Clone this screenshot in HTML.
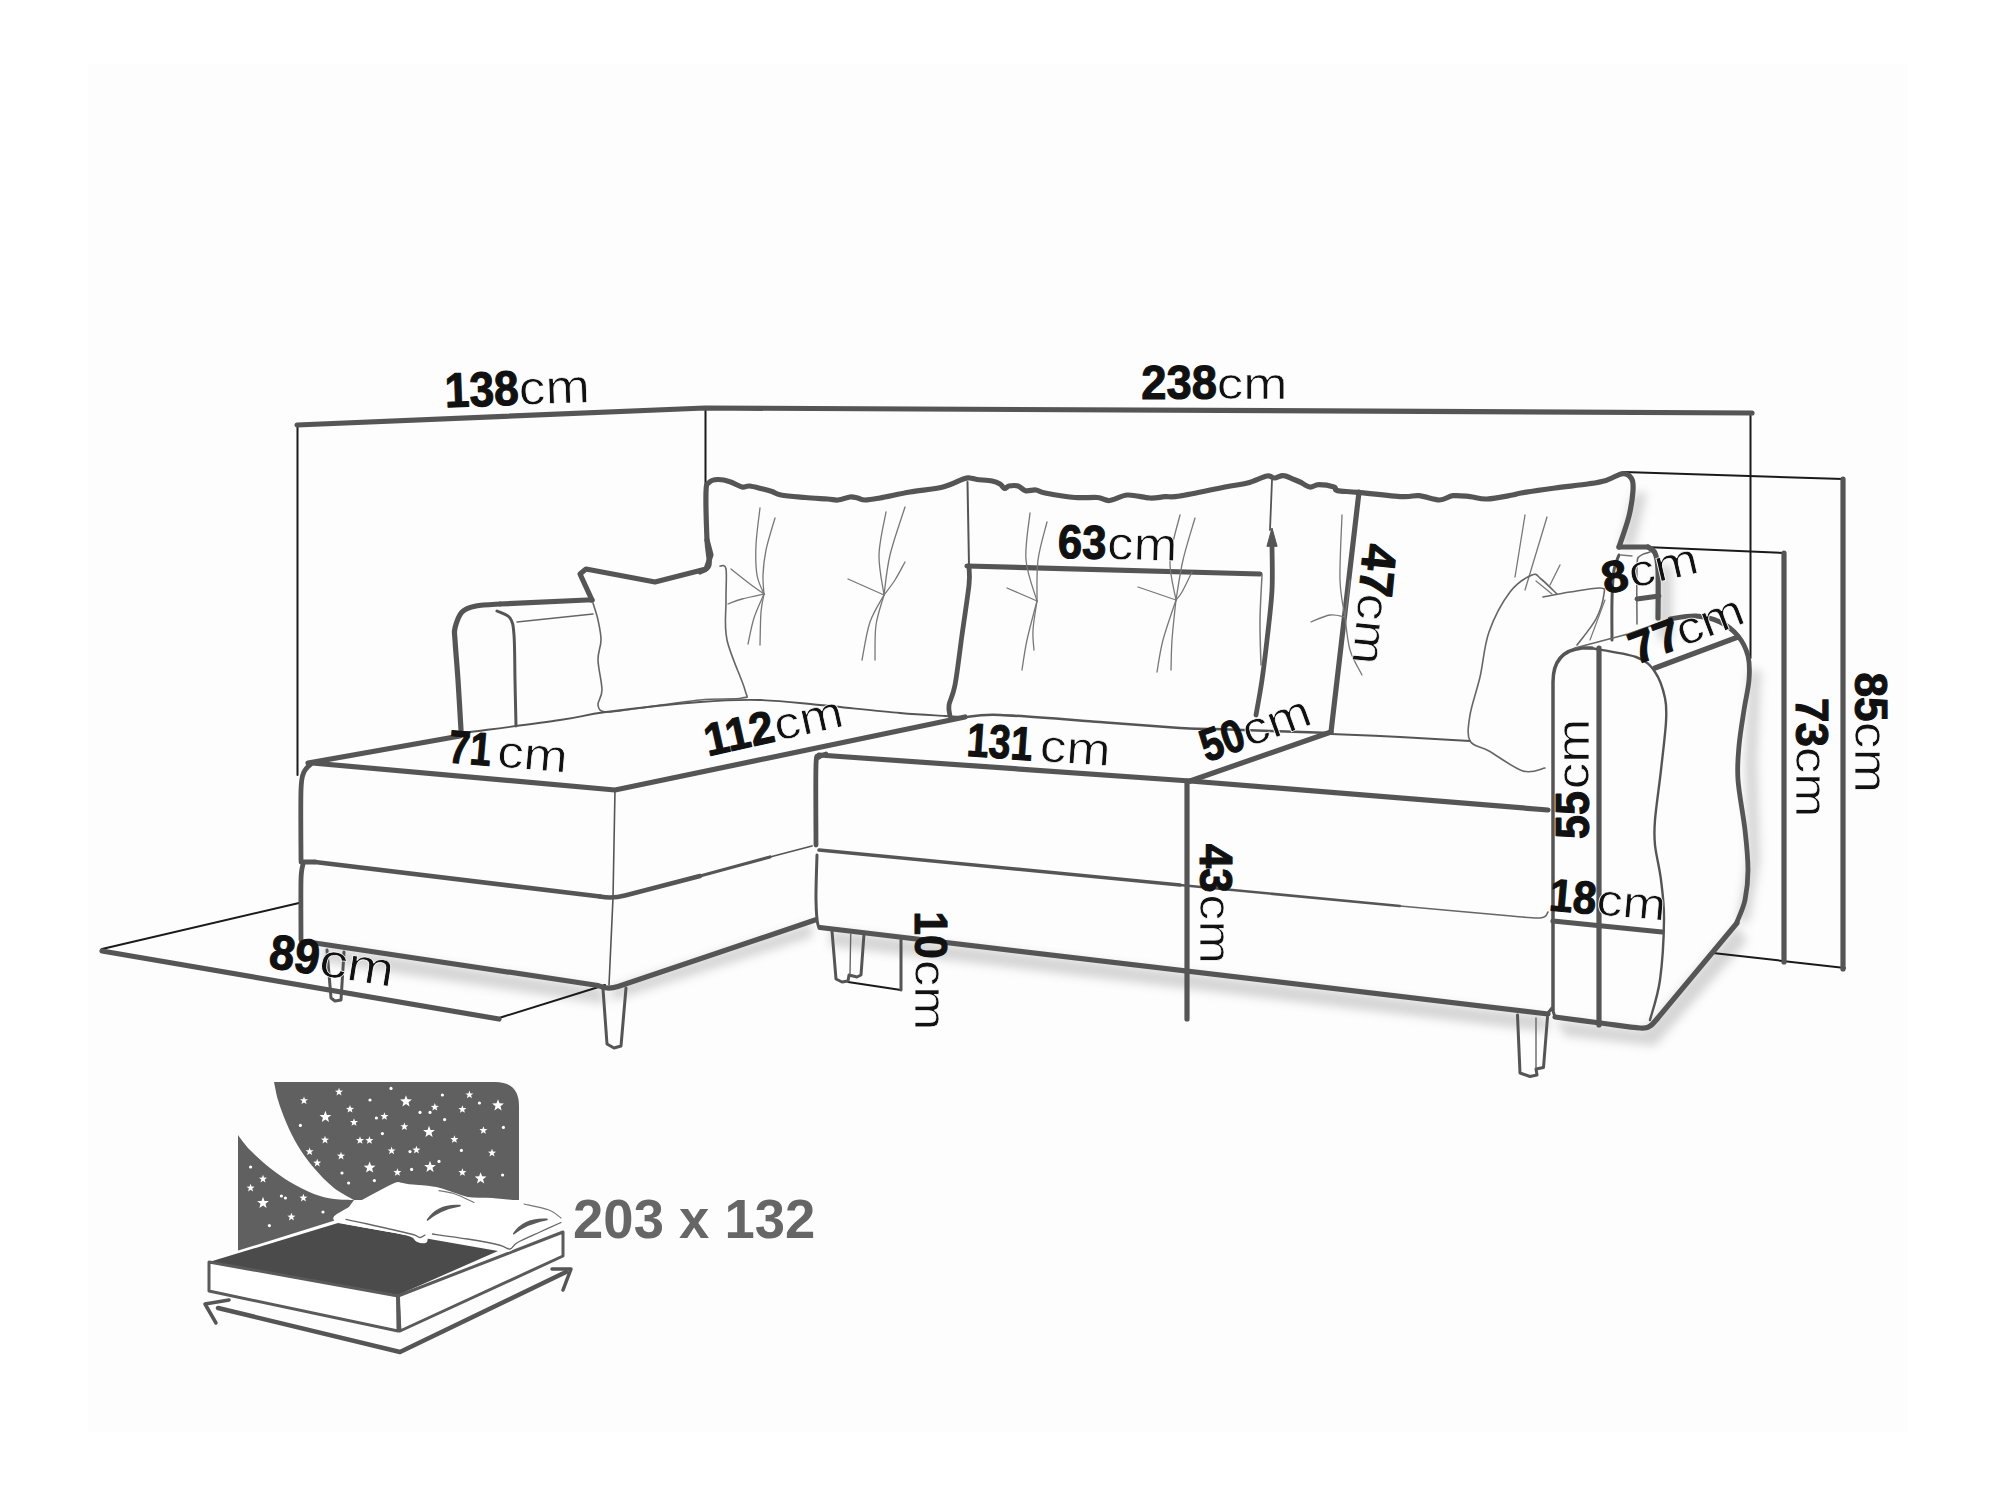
<!DOCTYPE html>
<html><head><meta charset="utf-8"><style>
html,body{margin:0;padding:0;background:#fff;width:2000px;height:1500px;overflow:hidden}
text{font-family:"Liberation Sans",sans-serif}
</style></head><body>
<svg width="2000" height="1500" viewBox="0 0 2000 1500" style="position:absolute;left:0;top:0">
<defs><filter id="blur" x="-20%" y="-50%" width="140%" height="200%"><feGaussianBlur stdDeviation="6"/></filter></defs>
<rect x="0" y="0" width="2000" height="1500" fill="#ffffff"/>
<rect x="88" y="64" width="1820" height="1368" fill="#fdfdfd"/>
<filter id="sb" x="-10%" y="-50%" width="120%" height="200%"><feGaussianBlur stdDeviation="5"/></filter>
<g filter="url(#sb)" opacity="0.27" fill="#6a6a6a">
<path d="M322,946 L604,988 L604,1004 L322,962Z"/>
<path d="M612,987 L812,923 L812,937 L612,1001Z"/>
<path d="M830,930 L1548,1016 L1548,1032 L830,946Z"/>
<path d="M1555,1020 L1645,1030 L1737,925 L1747,941 L1655,1046 L1565,1036Z"/>
<path d="M1737,922 L1748,860 L1745,760 L1749,670 L1761,670 L1757,760 L1760,860 L1749,922Z"/>
<path d="M1633,493 L1620,547 L1634,547 L1647,493Z"/>
<path d="M1658,565 L1658,640 L1672,640 L1672,565Z"/>
</g>
<path d="M297.5,425 L297.5,775" stroke="#1a1a1a" stroke-width="2" fill="none" stroke-linejoin="round" stroke-linecap="round" />
<path d="M705.5,408 L705.5,487" stroke="#1a1a1a" stroke-width="2" fill="none" stroke-linejoin="round" stroke-linecap="round" />
<path d="M1750.5,412 L1750.5,658" stroke="#1a1a1a" stroke-width="2" fill="none" stroke-linejoin="round" stroke-linecap="round" />
<path d="M1624,472 L1843,479" stroke="#1a1a1a" stroke-width="2" fill="none" stroke-linejoin="round" stroke-linecap="round" />
<path d="M1645,547 L1785,553" stroke="#1a1a1a" stroke-width="2" fill="none" stroke-linejoin="round" stroke-linecap="round" />
<path d="M1713,953 L1845,968" stroke="#1a1a1a" stroke-width="2" fill="none" stroke-linejoin="round" stroke-linecap="round" />
<path d="M102,949 L299,903" stroke="#1a1a1a" stroke-width="2" fill="none" stroke-linejoin="round" stroke-linecap="round" />
<path d="M499,1018 L605,985" stroke="#1a1a1a" stroke-width="2" fill="none" stroke-linejoin="round" stroke-linecap="round" />
<path d="M848,982 L901,990" stroke="#1a1a1a" stroke-width="2" fill="none" stroke-linejoin="round" stroke-linecap="round" />
<path d="M901,940 L901,990" stroke="#555555" stroke-width="3" fill="none" stroke-linejoin="round" stroke-linecap="round" />
<path d="M297,425 L705,408 L1752,413" stroke="#555555" stroke-width="5.2" fill="none" stroke-linejoin="round" stroke-linecap="round" />
<path d="M1843,479 L1843,969" stroke="#555555" stroke-width="5.2" fill="none" stroke-linejoin="round" stroke-linecap="round" />
<path d="M1784,553 L1784,962" stroke="#555555" stroke-width="5.2" fill="none" stroke-linejoin="round" stroke-linecap="round" />
<path d="M967,566 L1260,574" stroke="#555555" stroke-width="5.2" fill="none" stroke-linejoin="round" stroke-linecap="round" />
<path d="M102,951 L499,1019" stroke="#555555" stroke-width="5.2" fill="none" stroke-linejoin="round" stroke-linecap="round" />
<path d="M700,572 C701.5,570.8 707.8,570.3 709,565 C710.2,559.7 707.5,552.2 707,540 C706.5,527.8 705.7,501.6 706,492 C706.3,482.4 707.0,484.6 709,482.5 C711.0,480.4 714.5,479.6 718,479.5 C721.5,479.4 726.0,480.4 730,481.7 C734.0,482.9 738.8,486.3 742,487 C745.2,487.7 746.0,485.7 749.5,486 C753.0,486.3 759.2,488.1 763,489 C766.8,489.9 769.0,490.5 772,491.5 C775.0,492.5 775.5,494.0 781,495 C786.5,496.0 797.2,496.8 805,497.5 C812.8,498.2 822.0,498.6 827.5,499 C833.0,499.4 834.2,500.3 838,500 C841.8,499.7 846.8,497.3 850,497 C853.2,496.7 855.0,497.5 857.5,498 C860.0,498.5 861.2,500.0 865,500 C868.8,500.0 872.5,499.3 880,498 C887.5,496.7 899.5,493.8 910,492 C920.5,490.2 934.0,489.2 943,487 C952.0,484.8 959.5,480.2 964,478.7 C968.5,477.2 967.8,477.9 970,478 C972.2,478.1 973.3,479.0 977,479.5 C980.7,480.0 988.2,480.2 992,481 C995.8,481.8 997.9,482.8 1000,484 C1002.1,485.2 1003.0,488.2 1004.5,488.5 C1006.0,488.8 1006.8,486.4 1009,486 C1011.2,485.6 1015.2,485.2 1018,486 C1020.8,486.8 1022.5,490.0 1025.5,490.7 C1028.5,491.4 1032.8,489.6 1036,490 C1039.2,490.4 1038.5,491.8 1045,493 C1051.5,494.2 1066.2,496.8 1075,497.5 C1083.8,498.2 1091.8,497.0 1097.5,497.5 C1103.2,498.0 1104.5,500.9 1109.5,500.5 C1114.5,500.1 1120.8,495.4 1127.5,495 C1134.2,494.6 1143.8,497.7 1150,498 C1156.2,498.3 1160.0,497.0 1165,496.7 C1170.0,496.4 1170.0,497.6 1180,496 C1190.0,494.4 1213.8,489.2 1225,487 C1236.2,484.8 1240.5,484.8 1247.5,483 C1254.5,481.2 1262.5,476.8 1267,476 C1271.5,475.2 1271.8,478.1 1274.5,478 C1277.2,477.9 1280.2,475.4 1283.5,475.7 C1286.8,475.9 1291.2,478.4 1294,479.5 C1296.8,480.6 1297.3,480.8 1300,482 C1302.7,483.2 1306.9,486.6 1310,487 C1313.1,487.4 1314.7,484.7 1318.7,484.7 C1322.7,484.7 1330.9,486.0 1334,487 C1337.1,488.0 1333.4,489.7 1337.4,490.6 C1341.4,491.5 1347.0,491.3 1357.8,492.3 C1368.6,493.3 1391.8,496.0 1402,496.6 C1412.2,497.2 1412.8,495.1 1419,495.7 C1425.2,496.3 1433.8,500.0 1439.5,500 C1445.2,500.0 1447.9,496.3 1453,495.7 C1458.1,495.1 1464.3,496.1 1470,496.6 C1475.7,497.2 1479.9,499.3 1487,499 C1494.1,498.7 1506.9,496.0 1512.6,495 C1518.3,494.0 1513.9,494.2 1521,493 C1528.1,491.8 1543.7,489.5 1555,488 C1566.3,486.5 1580.5,485.1 1589,483.8 C1597.5,482.5 1600.3,482.1 1606,480.4 C1611.7,478.7 1618.7,473.9 1623,473.6 C1627.3,473.3 1629.9,475.9 1631.6,478.7 C1633.3,481.5 1633.4,484.4 1633,490.6 C1632.6,496.8 1631.3,506.6 1629,516 C1626.7,525.4 1620.7,541.8 1619,547" stroke="#555555" stroke-width="5.2" fill="none" stroke-linejoin="round" stroke-linecap="round" />
<path d="M1619,547 L1648,547" stroke="#555555" stroke-width="5.2" fill="none" stroke-linejoin="round" stroke-linecap="round" />
<path d="M1648,547 C1649.2,548.0 1653.3,549.2 1655,553 C1656.7,556.8 1657.5,559.2 1658,570 C1658.5,580.8 1658.0,610.0 1658,618" stroke="#555555" stroke-width="5.2" fill="none" stroke-linejoin="round" stroke-linecap="round" />
<path d="M967.5,482 L969,565" stroke="#555555" stroke-width="2" fill="none" stroke-linejoin="round" stroke-linecap="round" />
<path d="M969,567 C969.0,570.0 970.2,573.7 969,585 C967.8,596.3 964.3,618.3 962,635 C959.7,651.7 957.2,673.3 955,685 C952.8,696.7 949.8,699.8 949,705 C948.2,710.2 949.8,714.2 950,716" stroke="#555555" stroke-width="4.8" fill="none" stroke-linejoin="round" stroke-linecap="round" />
<path d="M1272,480 L1270,530" stroke="#555555" stroke-width="1.8" fill="none" stroke-linejoin="round" stroke-linecap="round" />
<path d="M1267,546 L1272,528 L1277,546Z" stroke="#555555" stroke-width="1" fill="#555555" stroke-linejoin="round" stroke-linecap="round" />
<path d="M1272,546 C1272.0,553.3 1272.8,574.3 1272,590 C1271.2,605.7 1268.7,625.0 1267,640 C1265.3,655.0 1263.8,667.5 1262,680 C1260.2,692.5 1257.0,709.2 1256,715" stroke="#555555" stroke-width="4.8" fill="none" stroke-linejoin="round" stroke-linecap="round" />
<path d="M1262,575 C1261.7,582.5 1260.2,605.0 1260,620 C1259.8,635.0 1260.8,657.5 1261,665" stroke="#777" stroke-width="1.5" fill="none" stroke-linejoin="round" stroke-linecap="round" />
<path d="M1359,492 L1331,732" stroke="#555555" stroke-width="5.2" fill="none" stroke-linejoin="round" stroke-linecap="round" />
<path d="M461,730 C460.5,721.7 459.0,695.0 458,680 C457.0,665.0 455.5,648.7 455,640 C454.5,631.3 453.8,632.7 455,628 C456.2,623.3 458.5,615.7 462,612 C465.5,608.3 469.7,607.3 476,606 C482.3,604.7 496.0,604.3 500,604" stroke="#555555" stroke-width="5.2" fill="none" stroke-linejoin="round" stroke-linecap="round" />
<path d="M500,604 L587,600 L592,600" stroke="#555555" stroke-width="5.2" fill="none" stroke-linejoin="round" stroke-linecap="round" />
<path d="M592,600 L580,574 L586,569 L655,582 L706,569 L711,555 L707,540" stroke="#555555" stroke-width="5.2" fill="none" stroke-linejoin="round" stroke-linecap="round" />
<path d="M497,611 C499.2,612.2 507.2,614.0 510,618 C512.8,622.0 513.2,624.7 514,635 C514.8,645.3 514.7,664.8 515,680 C515.3,695.2 515.8,718.3 516,726" stroke="#555555" stroke-width="3" fill="none" stroke-linejoin="round" stroke-linecap="round" />
<path d="M517,622 L593,614" stroke="#666" stroke-width="1.5" fill="none" stroke-linejoin="round" stroke-linecap="round" />
<path d="M593,603 C593.8,605.8 596.7,613.8 598,620 C599.3,626.2 601.0,633.3 601,640 C601.0,646.7 597.8,651.7 598,660 C598.2,668.3 602.0,682.5 602,690 C602.0,697.5 597.3,701.3 598,705 C598.7,708.7 599.0,711.5 606,712 C613.0,712.5 624.3,710.0 640,708 C655.7,706.0 683.0,701.7 700,700 C717.0,698.3 734.5,699.7 742,698 C749.5,696.3 747.5,699.7 745,690 C742.5,680.3 730.2,655.0 727,640 C723.8,625.0 726.2,611.8 726,600 C725.8,588.2 727.0,574.7 726,569 C725.0,563.3 721.0,566.5 720,566" stroke="#666" stroke-width="1.6" fill="none" stroke-linejoin="round" stroke-linecap="round" />
<path d="M463,733 C479.2,730.8 536.2,723.5 560,720 C583.8,716.5 582.7,715.0 606,712 C629.3,709.0 674.3,704.0 700,702 C725.7,700.0 740.0,699.5 760,700 C780.0,700.5 796.7,702.8 820,705 C843.3,707.2 879.2,711.2 900,713 C920.8,714.8 934.2,715.3 945,716 C955.8,716.7 961.7,716.8 965,717" stroke="#555" stroke-width="1.8" fill="none" stroke-linejoin="round" stroke-linecap="round" />
<path d="M965,717 C970.8,716.7 977.5,714.2 1000,715 C1022.5,715.8 1070.0,719.8 1100,722 C1130.0,724.2 1160.8,726.8 1180,728 C1199.2,729.2 1189.8,728.2 1215,729 C1240.2,729.8 1311.7,732.3 1331,733" stroke="#555" stroke-width="2.5" fill="none" stroke-linejoin="round" stroke-linecap="round" />
<path d="M1331,734 C1342.5,734.5 1376.8,735.8 1400,737 C1423.2,738.2 1458.3,740.3 1470,741" stroke="#555" stroke-width="2" fill="none" stroke-linejoin="round" stroke-linecap="round" />
<path d="M760,508 C759.3,514.2 756.5,533.8 756,545 C755.5,556.2 755.7,566.8 757,575 C758.3,583.2 762.8,590.8 764,594" stroke="#777" stroke-width="1.3" fill="none" stroke-linejoin="round" stroke-linecap="round" />
<path d="M775,518 C773.5,523.3 768.0,540.5 766,550 C764.0,559.5 763.3,567.7 763,575 C762.7,582.3 763.8,590.8 764,594" stroke="#777" stroke-width="1.3" fill="none" stroke-linejoin="round" stroke-linecap="round" />
<path d="M731,569 C734.2,571.5 744.5,579.8 750,584 C755.5,588.2 761.7,592.3 764,594" stroke="#777" stroke-width="1.3" fill="none" stroke-linejoin="round" stroke-linecap="round" />
<path d="M728,604 C730.3,603.2 736.0,600.7 742,599 C748.0,597.3 760.3,594.8 764,594" stroke="#777" stroke-width="1.3" fill="none" stroke-linejoin="round" stroke-linecap="round" />
<path d="M764,594 C762.3,598.0 756.7,609.7 754,618 C751.3,626.3 749.0,639.7 748,644" stroke="#777" stroke-width="1.3" fill="none" stroke-linejoin="round" stroke-linecap="round" />
<path d="M764,594 C763.5,597.0 761.7,603.5 761,612 C760.3,620.5 760.2,639.5 760,645" stroke="#777" stroke-width="1.3" fill="none" stroke-linejoin="round" stroke-linecap="round" />
<path d="M886,512 C884.8,519.2 879.3,541.2 879,555 C878.7,568.8 883.2,588.3 884,595" stroke="#777" stroke-width="1.3" fill="none" stroke-linejoin="round" stroke-linecap="round" />
<path d="M905,507 C902.5,515.0 893.5,540.3 890,555 C886.5,569.7 885.0,588.3 884,595" stroke="#777" stroke-width="1.3" fill="none" stroke-linejoin="round" stroke-linecap="round" />
<path d="M848,579 L884,595" stroke="#777" stroke-width="1.3" fill="none" stroke-linejoin="round" stroke-linecap="round" />
<path d="M905,562 C903.3,565.0 898.5,574.5 895,580 C891.5,585.5 885.8,592.5 884,595" stroke="#777" stroke-width="1.3" fill="none" stroke-linejoin="round" stroke-linecap="round" />
<path d="M884,595 C881.7,599.5 873.7,611.2 870,622 C866.3,632.8 863.3,653.7 862,660" stroke="#777" stroke-width="1.3" fill="none" stroke-linejoin="round" stroke-linecap="round" />
<path d="M884,595 C882.7,600.0 877.5,614.2 876,625 C874.5,635.8 875.2,654.2 875,660" stroke="#777" stroke-width="1.3" fill="none" stroke-linejoin="round" stroke-linecap="round" />
<path d="M1030,513 C1029.3,520.8 1024.8,545.3 1026,560 C1027.2,574.7 1035.2,594.2 1037,601" stroke="#777" stroke-width="1.3" fill="none" stroke-linejoin="round" stroke-linecap="round" />
<path d="M1047,522 C1045.5,528.3 1039.7,546.8 1038,560 C1036.3,573.2 1037.2,594.2 1037,601" stroke="#777" stroke-width="1.3" fill="none" stroke-linejoin="round" stroke-linecap="round" />
<path d="M1007,588 L1037,601" stroke="#777" stroke-width="1.3" fill="none" stroke-linejoin="round" stroke-linecap="round" />
<path d="M1037,601 C1035.3,607.5 1029.5,628.5 1027,640 C1024.5,651.5 1022.8,665.0 1022,670" stroke="#777" stroke-width="1.3" fill="none" stroke-linejoin="round" stroke-linecap="round" />
<path d="M1037,601 C1036.3,605.8 1033.5,621.8 1033,630 C1032.5,638.2 1033.8,646.7 1034,650" stroke="#777" stroke-width="1.3" fill="none" stroke-linejoin="round" stroke-linecap="round" />
<path d="M1180,515 C1178.3,522.5 1170.7,545.8 1170,560 C1169.3,574.2 1175.0,593.3 1176,600" stroke="#777" stroke-width="1.3" fill="none" stroke-linejoin="round" stroke-linecap="round" />
<path d="M1195,518 C1193.0,525.0 1186.2,546.3 1183,560 C1179.8,573.7 1177.2,593.3 1176,600" stroke="#777" stroke-width="1.3" fill="none" stroke-linejoin="round" stroke-linecap="round" />
<path d="M1138,587 L1176,600" stroke="#777" stroke-width="1.3" fill="none" stroke-linejoin="round" stroke-linecap="round" />
<path d="M1192,572 C1190.3,575.3 1184.7,587.3 1182,592 C1179.3,596.7 1177.0,598.7 1176,600" stroke="#777" stroke-width="1.3" fill="none" stroke-linejoin="round" stroke-linecap="round" />
<path d="M1176,600 C1173.8,606.7 1166.2,628.0 1163,640 C1159.8,652.0 1158.0,666.7 1157,672" stroke="#777" stroke-width="1.3" fill="none" stroke-linejoin="round" stroke-linecap="round" />
<path d="M1176,600 C1175.3,606.7 1172.8,628.3 1172,640 C1171.2,651.7 1171.2,665.0 1171,670" stroke="#777" stroke-width="1.3" fill="none" stroke-linejoin="round" stroke-linecap="round" />
<path d="M1311,622 C1314.2,620.8 1324.3,615.8 1330,615 C1335.7,614.2 1342.5,616.7 1345,617" stroke="#777" stroke-width="1.3" fill="none" stroke-linejoin="round" stroke-linecap="round" />
<path d="M1342,515 C1341.7,525.8 1339.5,563.0 1340,580 C1340.5,597.0 1344.2,610.8 1345,617" stroke="#777" stroke-width="1.3" fill="none" stroke-linejoin="round" stroke-linecap="round" />
<path d="M1350,580 L1345,617" stroke="#777" stroke-width="1.3" fill="none" stroke-linejoin="round" stroke-linecap="round" />
<path d="M1345,617 C1345.8,622.5 1347.2,640.3 1350,650 C1352.8,659.7 1360.0,670.8 1362,675" stroke="#777" stroke-width="1.3" fill="none" stroke-linejoin="round" stroke-linecap="round" />
<path d="M1525,515 L1515,577" stroke="#777" stroke-width="1.3" fill="none" stroke-linejoin="round" stroke-linecap="round" />
<path d="M1547,517 L1525,590" stroke="#777" stroke-width="1.3" fill="none" stroke-linejoin="round" stroke-linecap="round" />
<path d="M1560,565 L1550,585" stroke="#777" stroke-width="1.3" fill="none" stroke-linejoin="round" stroke-linecap="round" />
<path d="M1545,768 C1541.3,768.5 1532.3,773.8 1523,771 C1513.7,768.2 1497.8,756.0 1489,751 C1480.2,746.0 1473.2,747.0 1470,741 C1466.8,735.0 1468.3,725.7 1470,715 C1471.7,704.3 1476.8,690.8 1480,677 C1483.2,663.2 1484.0,646.2 1489,632 C1494.0,617.8 1502.8,601.5 1510,592 C1517.2,582.5 1526.8,577.2 1532,575 C1537.2,572.8 1536.8,575.8 1541,579 C1545.2,582.2 1554.3,591.5 1557,594" stroke="#666" stroke-width="1.6" fill="none" stroke-linejoin="round" stroke-linecap="round" />
<path d="M1543,597 C1547.5,596.2 1560.5,593.5 1570,592 C1579.5,590.5 1594.3,587.7 1600,588 C1605.7,588.3 1604.7,588.8 1604,594 C1603.3,599.2 1600.5,610.5 1596,619 C1591.5,627.5 1580.2,640.7 1577,645" stroke="#666" stroke-width="1.6" fill="none" stroke-linejoin="round" stroke-linecap="round" />
<path d="M1536,581 L1552,594" stroke="#777" stroke-width="1.2" fill="none" stroke-linejoin="round" stroke-linecap="round" />
<path d="M1605,600 L1590,640" stroke="#777" stroke-width="1.2" fill="none" stroke-linejoin="round" stroke-linecap="round" />
<path d="M1619,555 C1618.2,557.5 1615.2,562.5 1614,570 C1612.8,577.5 1612.3,588.3 1612,600 C1611.7,611.7 1612.0,633.3 1612,640" stroke="#555555" stroke-width="3" fill="none" stroke-linejoin="round" stroke-linecap="round" />
<path d="M1650,552 C1648.3,552.7 1642.2,553.7 1640,556 C1637.8,558.3 1637.5,554.7 1637,566 C1636.5,577.3 1637.0,614.3 1637,624" stroke="#666" stroke-width="1.5" fill="none" stroke-linejoin="round" stroke-linecap="round" />
<path d="M1621,555 L1632,556" stroke="#777" stroke-width="1.5" fill="none" stroke-linejoin="round" stroke-linecap="round" />
<path d="M1637,599 L1659,596" stroke="#555555" stroke-width="4.8" fill="none" stroke-linejoin="round" stroke-linecap="round" />
<path d="M301,860 C301.0,848.3 300.5,804.7 301,790 C301.5,775.3 302.2,776.5 304,772 C305.8,767.5 310.7,764.5 312,763" stroke="#555555" stroke-width="4.8" fill="none" stroke-linejoin="round" stroke-linecap="round" />
<path d="M308,763 L460,736" stroke="#555555" stroke-width="5.2" fill="none" stroke-linejoin="round" stroke-linecap="round" />
<path d="M312,763 L615,790 L965,717" stroke="#555555" stroke-width="5.2" fill="none" stroke-linejoin="round" stroke-linecap="round" />
<path d="M301,862 L315,862" stroke="#555555" stroke-width="4.8" fill="none" stroke-linejoin="round" stroke-linecap="round" />
<path d="M303,864 C302.7,866.7 301.3,867.3 301,880 C300.7,892.7 301.0,930.0 301,940" stroke="#555555" stroke-width="4.8" fill="none" stroke-linejoin="round" stroke-linecap="round" />
<path d="M315,862 L600,896.5" stroke="#555555" stroke-width="4.6" fill="none" stroke-linejoin="round" stroke-linecap="round" />
<path d="M600,896.5 Q612,899 625,895.5 L700,876" stroke="#555555" stroke-width="4.6" fill="none" stroke-linejoin="round" stroke-linecap="round" />
<path d="M700,876 L770,857" stroke="#555555" stroke-width="3.2" fill="none" stroke-linejoin="round" stroke-linecap="round" />
<path d="M770,857 L812,846" stroke="#555555" stroke-width="1.8" fill="none" stroke-linejoin="round" stroke-linecap="round" />
<path d="M615,790 L613,898 L609,985" stroke="#555" stroke-width="1.6" fill="none" stroke-linejoin="round" stroke-linecap="round" />
<path d="M315,943 L598,985.5 Q607,990 618,986.5 L815,920" stroke="#555555" stroke-width="5.2" fill="none" stroke-linejoin="round" stroke-linecap="round" />
<path d="M327,950 L331,998 L335,1001 L341,1000 L344,952" stroke="#555555" stroke-width="3" fill="none" stroke-linejoin="round" stroke-linecap="round" />
<path d="M603,989 L607,1044 L614,1048 L621,1046 L626,988" stroke="#555555" stroke-width="3" fill="none" stroke-linejoin="round" stroke-linecap="round" />
<path d="M816,845 C816.0,831.7 815.5,779.7 816,765 C816.5,750.3 817.3,758.8 819,757 C820.7,755.2 824.8,754.5 826,754" stroke="#555555" stroke-width="4.8" fill="none" stroke-linejoin="round" stroke-linecap="round" />
<path d="M819,755 L1190,781" stroke="#555555" stroke-width="5.2" fill="none" stroke-linejoin="round" stroke-linecap="round" />
<path d="M1190,781 L1331,732" stroke="#555555" stroke-width="5.2" fill="none" stroke-linejoin="round" stroke-linecap="round" />
<path d="M1190,781 L1548,810" stroke="#555555" stroke-width="5.2" fill="none" stroke-linejoin="round" stroke-linecap="round" />
<path d="M819,850 L1180,885" stroke="#555555" stroke-width="3.5" fill="none" stroke-linejoin="round" stroke-linecap="round" />
<path d="M1180,885 L1400,906" stroke="#555555" stroke-width="2.6" fill="none" stroke-linejoin="round" stroke-linecap="round" />
<path d="M1400,906 C1416.7,907.5 1476.7,913.0 1500,915 C1523.3,917.0 1532.0,918.5 1540,918 C1548.0,917.5 1546.7,913.0 1548,912" stroke="#666" stroke-width="1.6" fill="none" stroke-linejoin="round" stroke-linecap="round" />
<path d="M817,855 C816.8,862.5 815.8,888.3 816,900 C816.2,911.7 816.8,920.3 818,925 C819.2,929.7 822.2,927.5 823,928" stroke="#555555" stroke-width="3" fill="none" stroke-linejoin="round" stroke-linecap="round" />
<path d="M820,927.5 L1548,1014" stroke="#555555" stroke-width="5.2" fill="none" stroke-linejoin="round" stroke-linecap="round" />
<path d="M1187,781 L1187,1019" stroke="#555555" stroke-width="5.2" fill="none" stroke-linejoin="round" stroke-linecap="round" />
<path d="M832,931 L836,979 L842,982 L848,981 L849,975 L857,977 L861,975 L864,934" stroke="#555555" stroke-width="3" fill="none" stroke-linejoin="round" stroke-linecap="round" />
<path d="M850.7,934 L850,974" stroke="#666" stroke-width="1.4" fill="none" stroke-linejoin="round" stroke-linecap="round" />
<path d="M1517.5,1015 L1520,1073 L1530,1076.5 L1537,1075 L1536,1069 L1543.5,1067.5 L1547.5,1017" stroke="#555555" stroke-width="3" fill="none" stroke-linejoin="round" stroke-linecap="round" />
<path d="M1536,1018 L1536,1068" stroke="#666" stroke-width="1.4" fill="none" stroke-linejoin="round" stroke-linecap="round" />
<path d="M1553,1010 L1553,682 Q1553,651 1582,648 L1592,648" stroke="#555555" stroke-width="3.5" fill="none" stroke-linejoin="round" stroke-linecap="round" />
<path d="M1590,648 C1597.7,649.5 1625.2,653.0 1636,657 C1646.8,661.0 1650.2,665.2 1655,672 C1659.8,678.8 1663.2,689.7 1665,698 C1666.8,706.3 1666.7,710.0 1666,722 C1665.3,734.0 1662.8,753.7 1661,770 C1659.2,786.3 1656.0,807.5 1655,820 C1654.0,832.5 1654.0,835.0 1655,845 C1656.0,855.0 1659.5,867.5 1661,880 C1662.5,892.5 1664.2,903.3 1664,920 C1663.8,936.7 1662.3,963.3 1660,980 C1657.7,996.7 1651.7,1013.3 1650,1020" stroke="#555555" stroke-width="2.4" fill="none" stroke-linejoin="round" stroke-linecap="round" />
<path d="M1575,648 L1628,634 L1670,619" stroke="#666" stroke-width="1.6" fill="none" stroke-linejoin="round" stroke-linecap="round" />
<path d="M1670,619 C1674.3,618.5 1687.7,615.5 1696,616 C1704.3,616.5 1713.0,618.7 1720,622 C1727.0,625.3 1733.3,630.3 1738,636 C1742.7,641.7 1746.2,648.7 1748,656 C1749.8,663.3 1749.7,671.0 1749,680 C1748.3,689.0 1745.7,699.0 1744,710 C1742.3,721.0 1740.0,734.3 1739,746 C1738.0,757.7 1737.0,766.0 1738,780 C1739.0,794.0 1743.3,815.0 1745,830 C1746.7,845.0 1748.0,858.3 1748,870 C1748.0,881.7 1746.8,891.3 1745,900 C1743.2,908.7 1738.3,918.3 1737,922" stroke="#555555" stroke-width="4.8" fill="none" stroke-linejoin="round" stroke-linecap="round" />
<path d="M1555,1017 C1562.5,1018.0 1585.8,1021.2 1600,1023 C1614.2,1024.8 1631.7,1027.5 1640,1028 C1648.3,1028.5 1647.2,1027.5 1650,1026 C1652.8,1024.5 1655.8,1020.2 1657,1019" stroke="#555555" stroke-width="5.2" fill="none" stroke-linejoin="round" stroke-linecap="round" />
<path d="M1657,1019 L1737,923" stroke="#555555" stroke-width="5.2" fill="none" stroke-linejoin="round" stroke-linecap="round" />
<path d="M1548,1013 L1552,1008 L1555,1017" stroke="#555555" stroke-width="3" fill="none" stroke-linejoin="round" stroke-linecap="round" />
<path d="M1599,648 L1599,1025" stroke="#555555" stroke-width="5.2" fill="none" stroke-linejoin="round" stroke-linecap="round" />
<path d="M1655,668 L1738,637" stroke="#555555" stroke-width="5.2" fill="none" stroke-linejoin="round" stroke-linecap="round" />
<path d="M1553,921 L1662,932" stroke="#555555" stroke-width="5.2" fill="none" stroke-linejoin="round" stroke-linecap="round" />
<path d="M1500,804 L1547,810" stroke="#555555" stroke-width="0.1" fill="none" stroke-linejoin="round" stroke-linecap="round" />
<g transform="translate(448,407.2) rotate(-2)">
<text x="-2.80" y="0" font-size="48.69" font-weight="bold" textLength="74.17" lengthAdjust="spacingAndGlyphs" fill="#111" stroke="#111" stroke-width="1.1" stroke-linejoin="round">138</text>
<text x="71.34" y="0" font-size="47.58" textLength="70.97" lengthAdjust="spacingAndGlyphs" fill="#111" stroke="#fff" stroke-width="0.7">cm</text>
</g>
<g transform="translate(1142.8,398.8) rotate(0)">
<text x="-1.57" y="0" font-size="48.12" font-weight="bold" textLength="75.67" lengthAdjust="spacingAndGlyphs" fill="#111" stroke="#111" stroke-width="1.1" stroke-linejoin="round">238</text>
<text x="73.85" y="0" font-size="45.16" textLength="70.75" lengthAdjust="spacingAndGlyphs" fill="#111" stroke="#fff" stroke-width="0.7">cm</text>
</g>
<g transform="translate(1059.1,557.7) rotate(1.5)">
<text x="-1.60" y="0" font-size="47.26" font-weight="bold" textLength="48.68" lengthAdjust="spacingAndGlyphs" fill="#111" stroke="#111" stroke-width="1.1" stroke-linejoin="round">63</text>
<text x="47.77" y="0" font-size="46.28" textLength="70.10" lengthAdjust="spacingAndGlyphs" fill="#111" stroke="#fff" stroke-width="0.7">cm</text>
</g>
<g transform="translate(1363.8,543.5) rotate(95.5)">
<text x="-0.72" y="0" font-size="47.97" font-weight="bold" textLength="52.80" lengthAdjust="spacingAndGlyphs" fill="#111" stroke="#111" stroke-width="1.1" stroke-linejoin="round">47</text>
<text x="49.14" y="0" font-size="45.53" textLength="70.97" lengthAdjust="spacingAndGlyphs" fill="#111" stroke="#fff" stroke-width="0.7">cm</text>
</g>
<g transform="translate(1607,594) rotate(-13)">
<text x="-1.48" y="0" font-size="44.40" font-weight="bold" textLength="25.91" lengthAdjust="spacingAndGlyphs" fill="#111" stroke="#111" stroke-width="1.1" stroke-linejoin="round">8</text>
<text x="25.76" y="0" font-size="44.60" textLength="70.32" lengthAdjust="spacingAndGlyphs" fill="#111" stroke="#fff" stroke-width="0.7">cm</text>
</g>
<g transform="translate(1637.8,664.2) rotate(-21)">
<text x="-2.01" y="0" font-size="45.06" font-weight="bold" textLength="52.07" lengthAdjust="spacingAndGlyphs" fill="#111" stroke="#111" stroke-width="1.1" stroke-linejoin="round">77</text>
<text x="47.79" y="0" font-size="45.53" textLength="69.45" lengthAdjust="spacingAndGlyphs" fill="#111" stroke="#fff" stroke-width="0.7">cm</text>
</g>
<g transform="translate(1588.5,837.6) rotate(-90)">
<text x="-1.32" y="0" font-size="47.68" font-weight="bold" textLength="47.71" lengthAdjust="spacingAndGlyphs" fill="#111" stroke="#111" stroke-width="1.1" stroke-linejoin="round">55</text>
<text x="48.35" y="0" font-size="46.46" textLength="70.54" lengthAdjust="spacingAndGlyphs" fill="#111" stroke="#fff" stroke-width="0.7">cm</text>
</g>
<g transform="translate(1795.5,700) rotate(90)">
<text x="-1.88" y="0" font-size="45.83" font-weight="bold" textLength="48.77" lengthAdjust="spacingAndGlyphs" fill="#111" stroke="#111" stroke-width="1.1" stroke-linejoin="round">73</text>
<text x="46.74" y="0" font-size="44.60" textLength="70.86" lengthAdjust="spacingAndGlyphs" fill="#111" stroke="#fff" stroke-width="0.7">cm</text>
</g>
<g transform="translate(1855.2,673.9) rotate(90)">
<text x="-1.40" y="0" font-size="45.83" font-weight="bold" textLength="49.03" lengthAdjust="spacingAndGlyphs" fill="#111" stroke="#111" stroke-width="1.1" stroke-linejoin="round">85</text>
<text x="47.82" y="0" font-size="45.53" textLength="71.41" lengthAdjust="spacingAndGlyphs" fill="#111" stroke="#fff" stroke-width="0.7">cm</text>
</g>
<g transform="translate(1200,844.5) rotate(90)">
<text x="-0.66" y="0" font-size="45.83" font-weight="bold" textLength="48.75" lengthAdjust="spacingAndGlyphs" fill="#111" stroke="#111" stroke-width="1.1" stroke-linejoin="round">43</text>
<text x="49.78" y="0" font-size="44.60" textLength="69.67" lengthAdjust="spacingAndGlyphs" fill="#111" stroke="#fff" stroke-width="0.7">cm</text>
</g>
<g transform="translate(915,914) rotate(90)">
<text x="-2.69" y="0" font-size="45.54" font-weight="bold" textLength="47.44" lengthAdjust="spacingAndGlyphs" fill="#111" stroke="#111" stroke-width="1.1" stroke-linejoin="round">10</text>
<text x="45.75" y="0" font-size="44.23" textLength="70.75" lengthAdjust="spacingAndGlyphs" fill="#111" stroke="#fff" stroke-width="0.7">cm</text>
</g>
<g transform="translate(1551,910.5) rotate(5)">
<text x="-2.66" y="0" font-size="45.83" font-weight="bold" textLength="46.96" lengthAdjust="spacingAndGlyphs" fill="#111" stroke="#111" stroke-width="1.1" stroke-linejoin="round">18</text>
<text x="44.78" y="0" font-size="44.60" textLength="69.67" lengthAdjust="spacingAndGlyphs" fill="#111" stroke="#fff" stroke-width="0.7">cm</text>
</g>
<g transform="translate(1208,762) rotate(-20)">
<text x="-1.21" y="0" font-size="45.83" font-weight="bold" textLength="43.83" lengthAdjust="spacingAndGlyphs" fill="#111" stroke="#111" stroke-width="1.1" stroke-linejoin="round">50</text>
<text x="42.77" y="0" font-size="45.53" textLength="70.10" lengthAdjust="spacingAndGlyphs" fill="#111" stroke="#fff" stroke-width="0.7">cm</text>
</g>
<g transform="translate(968.5,756) rotate(4)">
<text x="-2.48" y="0" font-size="47.26" font-weight="bold" textLength="65.57" lengthAdjust="spacingAndGlyphs" fill="#111" stroke="#111" stroke-width="1.1" stroke-linejoin="round">131</text>
<text x="70.75" y="0" font-size="45.53" textLength="70.75" lengthAdjust="spacingAndGlyphs" fill="#111" stroke="#fff" stroke-width="0.7">cm</text>
</g>
<g transform="translate(710.6,755.7) rotate(-12.5)">
<text x="-2.66" y="0" font-size="45.83" font-weight="bold" textLength="70.34" lengthAdjust="spacingAndGlyphs" fill="#111" stroke="#111" stroke-width="1.1" stroke-linejoin="round">112</text>
<text x="68.48" y="0" font-size="45.53" textLength="69.67" lengthAdjust="spacingAndGlyphs" fill="#111" stroke="#fff" stroke-width="0.7">cm</text>
</g>
<g transform="translate(449.1,762.4) rotate(5)">
<text x="-1.65" y="0" font-size="46.51" font-weight="bold" textLength="42.72" lengthAdjust="spacingAndGlyphs" fill="#111" stroke="#111" stroke-width="1.1" stroke-linejoin="round">71</text>
<text x="47.35" y="0" font-size="45.53" textLength="70.54" lengthAdjust="spacingAndGlyphs" fill="#111" stroke="#fff" stroke-width="0.7">cm</text>
</g>
<g transform="translate(268.9,967.4) rotate(9)">
<text x="-1.43" y="0" font-size="48.69" font-weight="bold" textLength="50.10" lengthAdjust="spacingAndGlyphs" fill="#111" stroke="#111" stroke-width="1.1" stroke-linejoin="round">89</text>
<text x="49.21" y="0" font-size="47.39" textLength="75.11" lengthAdjust="spacingAndGlyphs" fill="#111" stroke="#fff" stroke-width="0.7">cm</text>
</g>
<path d="M274,1082 L495,1082 Q519,1082 519,1106 L519,1200 L354,1200  C350.7,1198.0 340.7,1193.3 334,1188 C327.3,1182.7 320.0,1175.0 314,1168 C308.0,1161.0 302.7,1153.7 298,1146 C293.3,1138.3 289.3,1129.7 286,1122 C282.7,1114.3 280.0,1106.7 278,1100 C276.0,1093.3 274.7,1085.0 274,1082 Z" stroke="none" stroke-width="0" fill="#606060" stroke-linejoin="round" stroke-linecap="round" />
<path d="M238,1135 C240.0,1137.5 244.7,1144.5 250,1150 C255.3,1155.5 263.3,1162.7 270,1168 C276.7,1173.3 282.7,1177.7 290,1182 C297.3,1186.3 306.7,1191.2 314,1194 C321.3,1196.8 327.3,1198.0 334,1199 C340.7,1200.0 350.7,1199.8 354,1200 L338,1222 L209,1262 L238,1262 L238,1135 Z" stroke="none" stroke-width="0" fill="#606060" stroke-linejoin="round" stroke-linecap="round" />
<path d="M205,1263 L340,1221" stroke="#fff" stroke-width="4" fill="none" stroke-linejoin="round" stroke-linecap="round" />
<path d="M209,1262 L338,1223 L498,1251 L398,1295 Z" stroke="none" stroke-width="0" fill="#4b4b4b" stroke-linejoin="round" stroke-linecap="round" />
<path d="M209,1262 L398,1296 L398,1331 L209,1291 Z" stroke="#5a5a5a" stroke-width="3" fill="#fff" stroke-linejoin="round" stroke-linecap="round" />
<path d="M398,1296 L563,1232 L563,1256 L400,1331 Z" stroke="#5a5a5a" stroke-width="3" fill="#fff" stroke-linejoin="round" stroke-linecap="round" />
<path d="M398,1297 L399,1330" stroke="#5a5a5a" stroke-width="4" fill="none" stroke-linejoin="round" stroke-linecap="round" />
<path d="M218,1308 L400,1352 L566,1272" stroke="#555" stroke-width="4.5" fill="none" stroke-linejoin="round" stroke-linecap="round" />
<path d="M229,1300 L205,1304 L216,1323" stroke="#555" stroke-width="3.5" fill="none" stroke-linejoin="round" stroke-linecap="round" />
<path d="M552,1269 L571,1269 L563,1290" stroke="#555" stroke-width="3.5" fill="none" stroke-linejoin="round" stroke-linecap="round" />
<path d="M337.5,1216 C340.4,1214.3 345.8,1211.0 355,1206 C364.2,1201.0 385.0,1189.6 392.5,1186 C400.0,1182.4 397.5,1184.4 400,1184.4 C402.5,1184.4 401.5,1185.2 407.5,1186 C413.5,1186.8 426.0,1186.8 436,1189 C446.0,1191.2 458.1,1197.2 467.5,1199 C476.9,1200.8 483.1,1199.2 492.5,1200 C501.9,1200.8 513.6,1201.7 524,1204 C534.4,1206.3 548.2,1211.5 555,1214 C561.8,1216.5 564.0,1217.3 565,1219 C566.0,1220.7 564.8,1221.3 561,1224 C557.2,1226.7 549.8,1231.5 542.5,1235 C535.2,1238.5 523.3,1242.5 517.5,1245 C511.7,1247.5 510.6,1249.6 507.5,1250 C504.4,1250.4 505.7,1248.8 499,1247.5 C492.3,1246.2 479.0,1244.4 467.5,1242.5 C456.0,1240.6 437.1,1236.2 430,1236 C422.9,1235.8 427.1,1240.3 425,1241 C422.9,1241.7 420.2,1241.2 417.5,1240 C414.8,1238.8 417.3,1236.3 409,1234 C400.7,1231.7 379.4,1228.3 367.5,1226 C355.6,1223.7 342.5,1221.7 337.5,1220 C332.5,1218.3 337.5,1216.7 337.5,1216 Z" stroke="#fff" stroke-width="4" fill="#fff" stroke-linejoin="round" stroke-linecap="round" />
<path d="M346,1219.4 C349.6,1220.2 356.7,1221.6 367.5,1224 C378.3,1226.4 402.2,1231.8 411,1234 C419.8,1236.2 417.7,1237.3 420,1237.5 C422.3,1237.7 424.2,1235.4 425,1235" stroke="#666" stroke-width="1.3" fill="none" stroke-linejoin="round" stroke-linecap="round" />
<path d="M432.5,1234 C438.3,1234.8 456.4,1237.2 467.5,1239 C478.6,1240.8 491.9,1243.3 499,1245 C506.1,1246.7 506.9,1249.4 510,1249 C513.1,1248.6 512.5,1245.3 517.5,1242.5 C522.5,1239.7 532.8,1235.3 540,1232 C547.2,1228.7 557.5,1224.1 561,1222.5" stroke="#666" stroke-width="1.3" fill="none" stroke-linejoin="round" stroke-linecap="round" />
<path d="M439,1190.6 C441.7,1191.2 449.2,1192.0 455,1194 C460.8,1196.0 470.8,1201.1 474,1202.5" stroke="#777" stroke-width="1.2" fill="none" stroke-linejoin="round" stroke-linecap="round" />
<path d="M524,1204 C528.2,1205.0 542.8,1207.7 549,1210 C555.2,1212.3 559.0,1216.7 561,1218" stroke="#777" stroke-width="1.2" fill="none" stroke-linejoin="round" stroke-linecap="round" />
<path d="M427.5,1220 Q438,1204 460,1205.6 Q440,1209 427.5,1220 Z" stroke="#5a5a5a" stroke-width="1.6" fill="#5a5a5a" stroke-linejoin="round" stroke-linecap="round" />
<path d="M513.75,1233.75 Q524,1218 547,1219.4 Q527,1223 513.75,1233.75 Z" stroke="#5a5a5a" stroke-width="1.6" fill="#5a5a5a" stroke-linejoin="round" stroke-linecap="round" />
<path d="M325.4,1110.8 L326.9,1114.9 L331.3,1115.1 L327.9,1117.8 L329.0,1122.0 L325.4,1119.6 L321.8,1122.0 L322.9,1117.8 L319.5,1115.1 L323.9,1114.9Z" stroke="none" stroke-width="0" fill="#fff" stroke-linejoin="round" stroke-linecap="round" />
<path d="M406.0,1095.2 L407.5,1099.3 L411.9,1099.5 L408.5,1102.2 L409.6,1106.4 L406.0,1104.0 L402.4,1106.4 L403.5,1102.2 L400.1,1099.5 L404.5,1099.3Z" stroke="none" stroke-width="0" fill="#fff" stroke-linejoin="round" stroke-linecap="round" />
<path d="M429.0,1125.8 L430.5,1129.9 L434.9,1130.1 L431.5,1132.8 L432.6,1137.0 L429.0,1134.6 L425.4,1137.0 L426.5,1132.8 L423.1,1130.1 L427.5,1129.9Z" stroke="none" stroke-width="0" fill="#fff" stroke-linejoin="round" stroke-linecap="round" />
<path d="M369.6,1161.4 L371.1,1165.5 L375.5,1165.7 L372.1,1168.4 L373.2,1172.6 L369.6,1170.2 L366.0,1172.6 L367.1,1168.4 L363.7,1165.7 L368.1,1165.5Z" stroke="none" stroke-width="0" fill="#fff" stroke-linejoin="round" stroke-linecap="round" />
<path d="M430.0,1160.8 L431.5,1164.9 L435.9,1165.1 L432.5,1167.8 L433.6,1172.0 L430.0,1169.6 L426.4,1172.0 L427.5,1167.8 L424.1,1165.1 L428.5,1164.9Z" stroke="none" stroke-width="0" fill="#fff" stroke-linejoin="round" stroke-linecap="round" />
<path d="M480.6,1172.2 L482.1,1176.3 L486.5,1176.5 L483.1,1179.2 L484.2,1183.4 L480.6,1181.0 L477.0,1183.4 L478.1,1179.2 L474.7,1176.5 L479.1,1176.3Z" stroke="none" stroke-width="0" fill="#fff" stroke-linejoin="round" stroke-linecap="round" />
<path d="M498.0,1099.2 L499.5,1103.3 L503.9,1103.5 L500.5,1106.2 L501.6,1110.4 L498.0,1108.0 L494.4,1110.4 L495.5,1106.2 L492.1,1103.5 L496.5,1103.3Z" stroke="none" stroke-width="0" fill="#fff" stroke-linejoin="round" stroke-linecap="round" />
<path d="M263.0,1196.8 L264.5,1200.9 L268.9,1201.1 L265.5,1203.8 L266.6,1208.0 L263.0,1205.6 L259.4,1208.0 L260.5,1203.8 L257.1,1201.1 L261.5,1200.9Z" stroke="none" stroke-width="0" fill="#fff" stroke-linejoin="round" stroke-linecap="round" />
<path d="M304.0,1096.4 L305.0,1099.2 L308.0,1099.3 L305.7,1101.1 L306.5,1104.0 L304.0,1102.4 L301.5,1104.0 L302.3,1101.1 L300.0,1099.3 L303.0,1099.2Z" stroke="none" stroke-width="0" fill="#fff" stroke-linejoin="round" stroke-linecap="round" />
<path d="M339.0,1087.8 L340.0,1090.6 L343.0,1090.7 L340.7,1092.5 L341.5,1095.4 L339.0,1093.8 L336.5,1095.4 L337.3,1092.5 L335.0,1090.7 L338.0,1090.6Z" stroke="none" stroke-width="0" fill="#fff" stroke-linejoin="round" stroke-linecap="round" />
<path d="M350.0,1105.0 L351.0,1107.8 L354.0,1107.9 L351.7,1109.7 L352.5,1112.6 L350.0,1111.0 L347.5,1112.6 L348.3,1109.7 L346.0,1107.9 L349.0,1107.8Z" stroke="none" stroke-width="0" fill="#fff" stroke-linejoin="round" stroke-linecap="round" />
<path d="M354.0,1118.2 L355.0,1121.0 L358.0,1121.1 L355.7,1122.9 L356.5,1125.8 L354.0,1124.2 L351.5,1125.8 L352.3,1122.9 L350.0,1121.1 L353.0,1121.0Z" stroke="none" stroke-width="0" fill="#fff" stroke-linejoin="round" stroke-linecap="round" />
<path d="M384.4,1112.2 L385.4,1115.0 L388.4,1115.1 L386.1,1116.9 L386.9,1119.8 L384.4,1118.2 L381.9,1119.8 L382.7,1116.9 L380.4,1115.1 L383.4,1115.0Z" stroke="none" stroke-width="0" fill="#fff" stroke-linejoin="round" stroke-linecap="round" />
<path d="M404.4,1122.4 L405.4,1125.2 L408.4,1125.3 L406.1,1127.1 L406.9,1130.0 L404.4,1128.4 L401.9,1130.0 L402.7,1127.1 L400.4,1125.3 L403.4,1125.2Z" stroke="none" stroke-width="0" fill="#fff" stroke-linejoin="round" stroke-linecap="round" />
<path d="M325.0,1135.8 L326.0,1138.6 L329.0,1138.7 L326.7,1140.5 L327.5,1143.4 L325.0,1141.8 L322.5,1143.4 L323.3,1140.5 L321.0,1138.7 L324.0,1138.6Z" stroke="none" stroke-width="0" fill="#fff" stroke-linejoin="round" stroke-linecap="round" />
<path d="M360.0,1136.2 L361.0,1139.0 L364.0,1139.1 L361.7,1140.9 L362.5,1143.8 L360.0,1142.2 L357.5,1143.8 L358.3,1140.9 L356.0,1139.1 L359.0,1139.0Z" stroke="none" stroke-width="0" fill="#fff" stroke-linejoin="round" stroke-linecap="round" />
<path d="M369.4,1136.2 L370.4,1139.0 L373.4,1139.1 L371.1,1140.9 L371.9,1143.8 L369.4,1142.2 L366.9,1143.8 L367.7,1140.9 L365.4,1139.1 L368.4,1139.0Z" stroke="none" stroke-width="0" fill="#fff" stroke-linejoin="round" stroke-linecap="round" />
<path d="M309.6,1147.4 L310.6,1150.2 L313.6,1150.3 L311.3,1152.1 L312.1,1155.0 L309.6,1153.4 L307.1,1155.0 L307.9,1152.1 L305.6,1150.3 L308.6,1150.2Z" stroke="none" stroke-width="0" fill="#fff" stroke-linejoin="round" stroke-linecap="round" />
<path d="M341.0,1151.8 L342.0,1154.6 L345.0,1154.7 L342.7,1156.5 L343.5,1159.4 L341.0,1157.8 L338.5,1159.4 L339.3,1156.5 L337.0,1154.7 L340.0,1154.6Z" stroke="none" stroke-width="0" fill="#fff" stroke-linejoin="round" stroke-linecap="round" />
<path d="M317.2,1158.8 L318.2,1161.6 L321.2,1161.7 L318.9,1163.5 L319.7,1166.4 L317.2,1164.8 L314.7,1166.4 L315.5,1163.5 L313.2,1161.7 L316.2,1161.6Z" stroke="none" stroke-width="0" fill="#fff" stroke-linejoin="round" stroke-linecap="round" />
<path d="M391.6,1146.6 L392.6,1149.4 L395.6,1149.5 L393.3,1151.3 L394.1,1154.2 L391.6,1152.6 L389.1,1154.2 L389.9,1151.3 L387.6,1149.5 L390.6,1149.4Z" stroke="none" stroke-width="0" fill="#fff" stroke-linejoin="round" stroke-linecap="round" />
<path d="M416.4,1145.8 L417.4,1148.6 L420.4,1148.7 L418.1,1150.5 L418.9,1153.4 L416.4,1151.8 L413.9,1153.4 L414.7,1150.5 L412.4,1148.7 L415.4,1148.6Z" stroke="none" stroke-width="0" fill="#fff" stroke-linejoin="round" stroke-linecap="round" />
<path d="M397.4,1168.2 L398.4,1171.0 L401.4,1171.1 L399.1,1172.9 L399.9,1175.8 L397.4,1174.2 L394.9,1175.8 L395.7,1172.9 L393.4,1171.1 L396.4,1171.0Z" stroke="none" stroke-width="0" fill="#fff" stroke-linejoin="round" stroke-linecap="round" />
<path d="M454.4,1135.2 L455.4,1138.0 L458.4,1138.1 L456.1,1139.9 L456.9,1142.8 L454.4,1141.2 L451.9,1142.8 L452.7,1139.9 L450.4,1138.1 L453.4,1138.0Z" stroke="none" stroke-width="0" fill="#fff" stroke-linejoin="round" stroke-linecap="round" />
<path d="M462.4,1105.2 L463.4,1108.0 L466.4,1108.1 L464.1,1109.9 L464.9,1112.8 L462.4,1111.2 L459.9,1112.8 L460.7,1109.9 L458.4,1108.1 L461.4,1108.0Z" stroke="none" stroke-width="0" fill="#fff" stroke-linejoin="round" stroke-linecap="round" />
<path d="M469.4,1090.6 L470.4,1093.4 L473.4,1093.5 L471.1,1095.3 L471.9,1098.2 L469.4,1096.6 L466.9,1098.2 L467.7,1095.3 L465.4,1093.5 L468.4,1093.4Z" stroke="none" stroke-width="0" fill="#fff" stroke-linejoin="round" stroke-linecap="round" />
<path d="M434.8,1103.0 L435.8,1105.8 L438.8,1105.9 L436.5,1107.7 L437.3,1110.6 L434.8,1109.0 L432.3,1110.6 L433.1,1107.7 L430.8,1105.9 L433.8,1105.8Z" stroke="none" stroke-width="0" fill="#fff" stroke-linejoin="round" stroke-linecap="round" />
<path d="M483.4,1126.2 L484.4,1129.0 L487.4,1129.1 L485.1,1130.9 L485.9,1133.8 L483.4,1132.2 L480.9,1133.8 L481.7,1130.9 L479.4,1129.1 L482.4,1129.0Z" stroke="none" stroke-width="0" fill="#fff" stroke-linejoin="round" stroke-linecap="round" />
<path d="M492.0,1148.8 L493.0,1151.6 L496.0,1151.7 L493.7,1153.5 L494.5,1156.4 L492.0,1154.8 L489.5,1156.4 L490.3,1153.5 L488.0,1151.7 L491.0,1151.6Z" stroke="none" stroke-width="0" fill="#fff" stroke-linejoin="round" stroke-linecap="round" />
<path d="M462.4,1168.2 L463.4,1171.0 L466.4,1171.1 L464.1,1172.9 L464.9,1175.8 L462.4,1174.2 L459.9,1175.8 L460.7,1172.9 L458.4,1171.1 L461.4,1171.0Z" stroke="none" stroke-width="0" fill="#fff" stroke-linejoin="round" stroke-linecap="round" />
<path d="M263.0,1174.8 L264.0,1177.6 L267.0,1177.7 L264.7,1179.5 L265.5,1182.4 L263.0,1180.8 L260.5,1182.4 L261.3,1179.5 L259.0,1177.7 L262.0,1177.6Z" stroke="none" stroke-width="0" fill="#fff" stroke-linejoin="round" stroke-linecap="round" />
<path d="M250.6,1183.8 L251.6,1186.6 L254.6,1186.7 L252.3,1188.5 L253.1,1191.4 L250.6,1189.8 L248.1,1191.4 L248.9,1188.5 L246.6,1186.7 L249.6,1186.6Z" stroke="none" stroke-width="0" fill="#fff" stroke-linejoin="round" stroke-linecap="round" />
<path d="M303.4,1193.8 L304.4,1196.6 L307.4,1196.7 L305.1,1198.5 L305.9,1201.4 L303.4,1199.8 L300.9,1201.4 L301.7,1198.5 L299.4,1196.7 L302.4,1196.6Z" stroke="none" stroke-width="0" fill="#fff" stroke-linejoin="round" stroke-linecap="round" />
<path d="M291.4,1212.8 L292.4,1215.6 L295.4,1215.7 L293.1,1217.5 L293.9,1220.4 L291.4,1218.8 L288.9,1220.4 L289.7,1217.5 L287.4,1215.7 L290.4,1215.6Z" stroke="none" stroke-width="0" fill="#fff" stroke-linejoin="round" stroke-linecap="round" />
<circle cx="391" cy="1088.4" r="1.6" fill="#fff"/>
<circle cx="370" cy="1100" r="1.6" fill="#fff"/>
<circle cx="300.4" cy="1125.4" r="1.6" fill="#fff"/>
<circle cx="376.4" cy="1118" r="1.6" fill="#fff"/>
<circle cx="382.4" cy="1133.6" r="1.6" fill="#fff"/>
<circle cx="420" cy="1112.4" r="1.6" fill="#fff"/>
<circle cx="430" cy="1112.4" r="1.6" fill="#fff"/>
<circle cx="442.4" cy="1095" r="1.6" fill="#fff"/>
<circle cx="444.6" cy="1119.6" r="1.6" fill="#fff"/>
<circle cx="479.4" cy="1103" r="1.6" fill="#fff"/>
<circle cx="503.4" cy="1127.4" r="1.6" fill="#fff"/>
<circle cx="461.4" cy="1150.4" r="1.6" fill="#fff"/>
<circle cx="410" cy="1151.6" r="1.6" fill="#fff"/>
<circle cx="411.6" cy="1169.4" r="1.6" fill="#fff"/>
<circle cx="439" cy="1161.4" r="1.6" fill="#fff"/>
<circle cx="502.6" cy="1175" r="1.6" fill="#fff"/>
<circle cx="342" cy="1173" r="1.6" fill="#fff"/>
<circle cx="348.6" cy="1183" r="1.6" fill="#fff"/>
<circle cx="374.4" cy="1180.6" r="1.6" fill="#fff"/>
<circle cx="250.6" cy="1167" r="1.6" fill="#fff"/>
<circle cx="281.4" cy="1196" r="1.6" fill="#fff"/>
<circle cx="285.4" cy="1198" r="1.6" fill="#fff"/>
<circle cx="323" cy="1212" r="1.6" fill="#fff"/>
<circle cx="269.4" cy="1225.6" r="1.6" fill="#fff"/>
<text x="573.11" y="0" font-size="55.85" font-weight="bold" textLength="242.06" lengthAdjust="spacingAndGlyphs" fill="#666" transform="translate(0,1237.5)">203 x 132</text>
</svg>
</body></html>
